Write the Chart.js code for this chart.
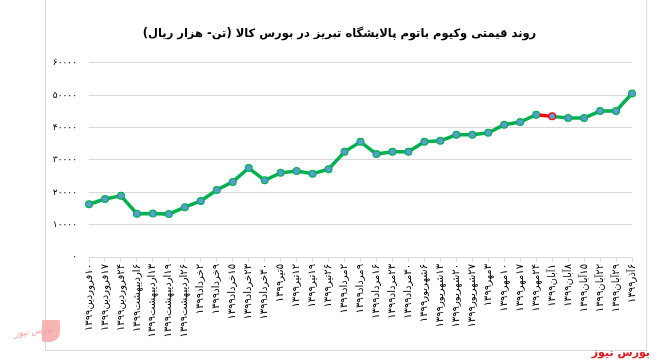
<!DOCTYPE html>
<html>
<head>
<meta charset="utf-8">
<script src="https://cdn.jsdelivr.net/npm/chart.js@4"></script>
<style>
    body { margin: 0; background: #fff; width: 657px; height: 363px; position: relative; overflow: hidden; }
    #box { position: absolute; left: 45px; top: 0; width: 600px; height: 350px; border: 1px solid #d9d9d9; border-top: none; }
    #box canvas { display: block; }
    .brand { position: absolute; right: 7px; bottom: 4px; font: bold 11px "DejaVu Sans", sans-serif; color: #e0181e; direction: rtl; }
    .logo-txt { position: absolute; left: 14px; top: 326px; font: italic 9px "DejaVu Sans", sans-serif; color: #f2a2a2; direction: rtl; transform: rotate(-8deg); }
    .logo-box { position: absolute; left: 42px; top: 320px; width: 18px; height: 22px; background: #f6b4b4; border-radius: 2px 2px 10px 2px; }
</style>
</head>
<body>
<div id="box"><canvas id="chart" width="600" height="350" dir="rtl"></canvas></div>
<div class="logo-box"></div>
<div class="logo-txt">بورس نیوز</div>
<div class="brand">بورس نیوز</div>
<script>
    // dates (week labels) and price per ton, thousand rials
    const dateLabels = [
        '۱۰فروردین۱۳۹۹', '۱۷فروردین۱۳۹۹', '۲۴فروردین۱۳۹۹', '۶اردیبهشت۱۳۹۹', '۱۳اردیبهشت۱۳۹۹',
        '۱۹اردیبهشت۱۳۹۹', '۲۶اردیبهشت۱۳۹۹', '۲خرداد۱۳۹۹', '۹خرداد۱۳۹۹', '۱۵خرداد۱۳۹۹',
        '۲۳خرداد۱۳۹۹', '۳۰خرداد۱۳۹۹', '۵تیر۱۳۹۹', '۱۲تیر۱۳۹۹', '۱۹تیر۱۳۹۹',
        '۲۶تیر۱۳۹۹', '۲مرداد۱۳۹۹', '۹مرداد۱۳۹۹', '۱۶مرداد۱۳۹۹', '۲۳مرداد۱۳۹۹',
        '۳۰مرداد۱۳۹۹', '۶شهریور۱۳۹۹', '۱۳شهریور۱۳۹۹', '۲۰شهریور۱۳۹۹', '۲۷شهریور۱۳۹۹',
        '۳مهر۱۳۹۹', '۱۰مهر۱۳۹۹', '۱۷مهر۱۳۹۹', '۲۴مهر۱۳۹۹', '۱آبان۱۳۹۹',
        '۸آبان۱۳۹۹', '۱۵آبان۱۳۹۹', '۲۲آبان۱۳۹۹', '۲۹آبان۱۳۹۹', '۶آذر۱۳۹۹'
    ];
    const prices = [
        16300, 17900, 18900, 13400, 13450, 13250, 15400, 17300, 20700, 23200,
        27500, 23700, 26000, 26600, 25750, 27100, 32500, 35600, 31800, 32500,
        32500, 35600, 35900, 37750, 37750, 38400, 40850, 41700, 43950, 43450,
        42950, 42950, 45100, 45100, 50500
    ];
    const yTicks = [0, 10000, 20000, 30000, 40000, 50000, 60000];

    // the one week where the price went down is drawn red
    const dropIndex = 29;

    const GREEN = '#00b050';
    const RED = '#ff0000';
    const DOT = '#5b9bd5';
    const GRID = '#d9d9d9';
    const FONT = '"DejaVu Sans", sans-serif';

    function toFa(n) {
        return String(n).replace(/\d/g, d => '۰۱۲۳۴۵۶۷۸۹'[d]);
    }

    new Chart(document.getElementById('chart'), {
        type: 'line',
        data: {
            labels: dateLabels,
            datasets: [{
                data: prices,
                borderColor: GREEN,
                borderWidth: 3.5,
                tension: 0,
                pointRadius: 3.4,
                pointBorderWidth: 1.2,
                pointBackgroundColor: DOT,
                pointBorderColor: prices.map((v, i) => i === dropIndex ? RED : GREEN),
                segment: {
                    borderColor: c => c.p1DataIndex === dropIndex ? RED : GREEN
                }
            }]
        },
        options: {
            responsive: false,
            animation: false,
            layout: { padding: { left: 0, right: 13, top: 0, bottom: 0 } },
            plugins: {
                legend: { display: false },
                tooltip: { enabled: false },
                title: {
                    display: true,
                    text: 'روند قیمتی وکیوم باتوم پالایشگاه تبریز در بورس کالا (تن- هزار ریال)',
                    color: '#000',
                    font: { family: FONT, size: 11.5, weight: 'bold' },
                    padding: { top: 27, bottom: 22 }
                }
            },
            scales: {
                x: {
                    grid: { display: true, drawOnChartArea: false, color: GRID, tickLength: 5 },
                    border: { color: GRID },
                    ticks: {
                        autoSkip: false,
                        maxRotation: 90,
                        minRotation: 90,
                        padding: 2,
                        color: '#000',
                        font: { family: FONT, size: 10 }
                    },
                    afterFit: s => { s.height = 93; }
                },
                y: {
                    min: 0,
                    max: 60000,
                    afterBuildTicks: s => { s.ticks = yTicks.map(v => ({ value: v })); },
                    grid: { color: GRID, drawTicks: false },
                    border: { display: false },
                    ticks: {
                        padding: 12,
                        color: '#000',
                        font: { family: FONT, size: 9 },
                        callback: v => toFa(v)
                    },
                    afterFit: s => { s.width = 43; }
                }
            }
        }
    });
</script>
</body>
</html>
